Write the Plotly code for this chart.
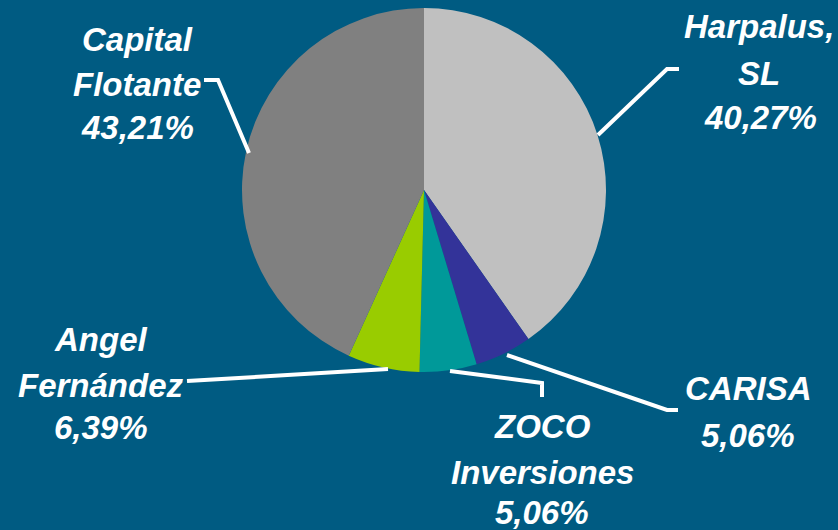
import plotly.graph_objects as go

W, H = 838, 530

categories = ["Harpalus, SL", "CARISA", "ZOCO Inversiones", "Angel Fernández", "Capital Flotante"]
values = [40.27, 5.06, 5.06, 6.39, 43.21]
colors = ["#C0C0C0", "#333399", "#009999", "#99CC00", "#808080"]

# label text lines per slice and their pixel positions (center x, center y of each line)
label_lines = {
    "Harpalus, SL": (["Harpalus,", "SL"], 759, [27, 74]),
    "CARISA": (["CARISA"], 748, [388]),
    "ZOCO Inversiones": (["ZOCO", "Inversiones"], 542, [426, 472]),
    "Angel Fernández": (["Angel", "Fernández"], 101, [339, 385]),
    "Capital Flotante": (["Capital", "Flotante"], 137, [40, 85]),
}
pct_pos = {
    "Harpalus, SL": (760, 117),
    "CARISA": (748, 435),
    "ZOCO Inversiones": (542, 512),
    "Angel Fernández": (101, 427),
    "Capital Flotante": (137, 128),
}
leaders = [
    [(598, 135), (667, 69), (679, 69)],
    [(507, 355), (667, 410), (678, 410)],
    [(450, 371), (542, 383), (542, 397)],
    [(388, 369), (187, 381)],
    [(249, 153), (218, 80), (204, 80)],
]

def px(x):
    return x / W

def py(y):
    return 1 - y / H

fig = go.Figure(go.Pie(
    labels=categories,
    values=values,
    marker=dict(colors=colors, line=dict(width=0)),
    sort=False,
    direction="clockwise",
    rotation=0,
    textinfo="none",
    hoverinfo="label+percent",
    showlegend=False,
    domain=dict(x=[px(242), px(606)], y=[py(372), py(8)]),
))

font = dict(family="Liberation Sans, Arial, sans-serif", size=33, color="white")
annotations = []
for i, cat in enumerate(categories):
    lines, cx, ys = label_lines[cat]
    for t, y in zip(lines, ys):
        annotations.append(dict(text=f"<b><i>{t}</i></b>", x=px(cx), y=py(y), xref="paper", yref="paper",
                                xanchor="center", yanchor="middle", showarrow=False, font=font))
    pxx, pyy = pct_pos[cat]
    pct = f"{values[i]:.2f}".replace(".", ",") + "%"
    annotations.append(dict(text=f"<b><i>{pct}</i></b>", x=px(pxx), y=py(pyy), xref="paper", yref="paper",
                            xanchor="center", yanchor="middle", showarrow=False, font=font))

shapes = []
for pts in leaders:
    path = "M " + " L ".join(f"{px(x)},{py(y)}" for x, y in pts)
    shapes.append(dict(type="path", path=path, xref="paper", yref="paper",
                       line=dict(color="white", width=4)))

fig.update_layout(
    width=W, height=H,
    margin=dict(l=0, r=0, t=0, b=0),
    paper_bgcolor="#005B82",
    plot_bgcolor="#005B82",
    annotations=annotations,
    shapes=shapes,
)

fig.write_html("out.html", config={"displayModeBar": False},
               post_script="document.body.style.margin='0';document.body.style.background='#005B82';")
